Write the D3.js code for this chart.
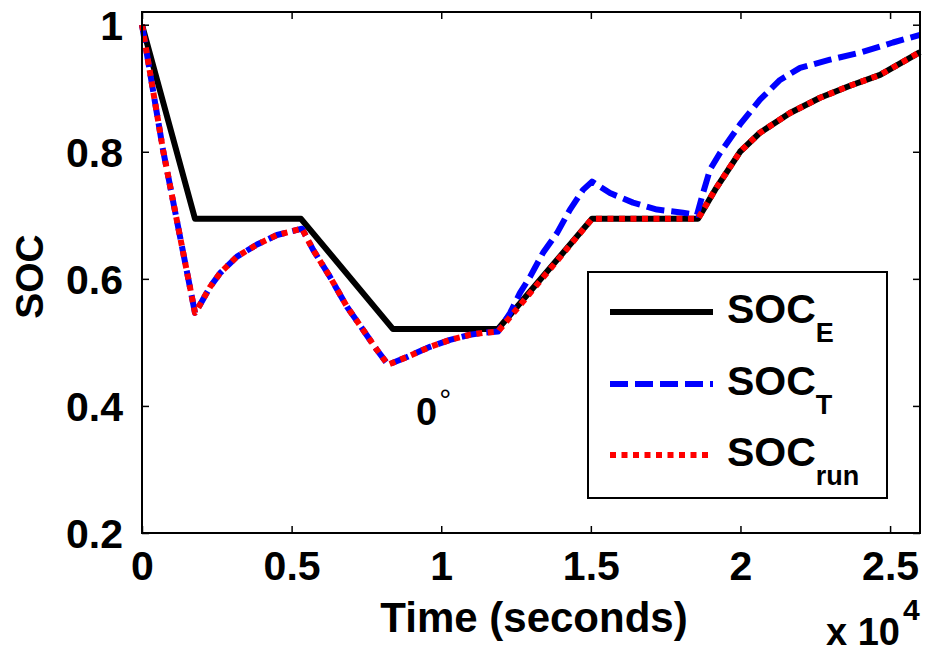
<!DOCTYPE html>
<html>
<head>
<meta charset="utf-8">
<script src="https://cdn.jsdelivr.net/npm/d3@7"></script>
<style>
  html, body { margin: 0; padding: 0; background: #fff; }
  svg text { font-family: "Liberation Sans", Arial, sans-serif; font-weight: bold; fill: #000; }
</style>
</head>
<body>
<svg id="chart" width="925" height="661"></svg>
<script>
// ---- data (time in seconds, SOC fraction) ----
const timeE = [0, 1771, 5314, 8388, 11897, 15039, 18581, 19150, 19985, 20650, 21655, 22660, 23660, 24665, 26000];
const socE  = [1.0, 0.6945, 0.6945, 0.521, 0.521, 0.6945, 0.6945, 0.740, 0.800, 0.830, 0.861, 0.885, 0.904, 0.921, 0.957];

const timeT = [0, 702, 1771, 1838, 2272, 2607, 3175, 3843, 4512, 5180, 5347, 5715, 6283, 6851, 7386, 7853, 8221,
               8856, 9625, 10293, 10961, 11396, 11897, 12298, 12632, 12967, 13401, 13869, 14303, 14738, 15039,
               15640, 16409, 17211, 18080, 18548, 18748, 18982, 19316, 19985, 20653, 21321, 21990, 22992, 23995, 25098, 26000];
const socT  = [1.0, 0.803, 0.5465, 0.551, 0.587, 0.609, 0.635, 0.654, 0.669, 0.677, 0.679, 0.646, 0.603, 0.556, 0.520, 0.488, 0.465,
               0.477, 0.493, 0.504, 0.512, 0.515, 0.517, 0.546, 0.578, 0.603, 0.641, 0.672, 0.709, 0.740, 0.753,
               0.735, 0.720, 0.709, 0.704, 0.701, 0.735, 0.772, 0.798, 0.843, 0.882, 0.913, 0.932, 0.945, 0.956, 0.972, 0.984];

const timeRun = [0, 702, 1771, 1838, 2272, 2607, 3175, 3843, 4512, 5180, 5347, 5715, 6283, 6851, 7386, 7853, 8221,
                 8856, 9625, 10293, 10961, 11396, 11897, 15039, 18581, 19150, 19985, 20650, 21655, 22660, 23660, 24665, 26000];
const socRun  = [1.0, 0.803, 0.5465, 0.551, 0.587, 0.609, 0.635, 0.654, 0.669, 0.677, 0.679, 0.646, 0.603, 0.556, 0.520, 0.488, 0.465,
                 0.477, 0.493, 0.504, 0.512, 0.515, 0.517, 0.6945, 0.6945, 0.740, 0.800, 0.830, 0.861, 0.885, 0.904, 0.921, 0.957];

const xTicks = [0, 5000, 10000, 15000, 20000, 25000];
const xTickLabels = ["0", "0.5", "1", "1.5", "2", "2.5"];
const yTicks = [0.2, 0.4, 0.6, 0.8, 1.0];
const yTickLabels = ["0.2", "0.4", "0.6", "0.8", "1"];

const legendNames = ["SOC", "SOC", "SOC"];
const legendSubs = ["E", "T", "run"];

// ---- layout ----
const svg = d3.select("#chart");
const L = 142, R = 920, T = 12, B = 533;
const x = d3.scaleLinear().domain([0, 26000]).range([L, R]);
const y = d3.scaleLinear().domain([0.2, 1.02]).range([B, T]);

const seriesStyle = [
  { t: timeE, v: socE, color: "#000000", dash: null },
  { t: timeT, v: socT, color: "#0000ff", dash: "18,7" },
  { t: timeRun, v: socRun, color: "#ff0000", dash: "6,5.5" }
];

const line = d3.line().x(d => x(d[0])).y(d => y(d[1]));
const plot = svg.append("g");
seriesStyle.forEach(s => {
  const pts = s.t.map((t, i) => [t, s.v[i]]);
  plot.append("path")
    .attr("d", line(pts))
    .attr("fill", "none")
    .attr("stroke", s.color)
    .attr("stroke-width", 6)
    .attr("stroke-linejoin", "round")
    .attr("stroke-dasharray", s.dash);
});

// axes (ticks inward on all sides)
const tl = 7;
const axB = d3.axisBottom(x).tickValues(xTicks).tickFormat((d, i) => xTickLabels[i]).tickSize(-tl).tickPadding(18);
const axT = d3.axisTop(x).tickValues(xTicks).tickFormat("").tickSize(-tl);
const axLft = d3.axisLeft(y).tickValues(yTicks).tickFormat((d, i) => yTickLabels[i]).tickSize(-tl).tickPadding(19);
const axRgt = d3.axisRight(y).tickValues(yTicks).tickFormat("").tickSize(-tl);

function styleAxis(g) {
  g.select(".domain").remove();
  g.selectAll(".tick line").attr("stroke", "#000").attr("stroke-width", 1.5);
  g.selectAll(".tick text").style("font-size", "41px").attr("fill", "#000");
}
svg.append("g").attr("transform", `translate(0,${B})`).call(axB).call(styleAxis)
  .selectAll(".tick text").attr("dy", "0.71em");
svg.append("g").attr("transform", `translate(0,${T})`).call(axT).call(styleAxis);
svg.append("g").attr("transform", `translate(${L},0)`).call(axLft).call(styleAxis)
  .selectAll(".tick text").attr("dy", "0.36em");
svg.append("g").attr("transform", `translate(${R},0)`).call(axRgt).call(styleAxis);

// frame
svg.append("rect").attr("x", L).attr("y", T).attr("width", R - L).attr("height", B - T)
  .attr("fill", "none").attr("stroke", "#000").attr("stroke-width", 2);

// axis labels
svg.append("text").attr("x", (L + R) / 2 + 3).attr("y", 632).attr("text-anchor", "middle")
  .style("font-size", "42px").text("Time (seconds)");
svg.append("text").attr("transform", `translate(43,${(T + B) / 2 + 4}) rotate(-90)`).attr("text-anchor", "middle")
  .style("font-size", "39px").text("SOC");

// exponent
const ex = svg.append("text").attr("x", 826).attr("y", 645).style("font-size", "38px");
ex.append("tspan").text("x 10");
ex.append("tspan").attr("dy", -25).attr("dx", 3).style("font-size", "30px").text("4");

// annotation 0°
const ann = svg.append("text").attr("x", 416).attr("y", 425).style("font-size", "38px");
ann.append("tspan").text("0");
ann.append("tspan").attr("dx", 2).attr("dy", -15).style("font-size", "30px").style("font-weight", "normal").text("°");

// legend
const lg = svg.append("g");
lg.append("rect").attr("x", 588).attr("y", 272).attr("width", 299).attr("height", 226)
  .attr("fill", "#fff").attr("stroke", "#000").attr("stroke-width", 2);
const legY = [312, 384, 455];
seriesStyle.forEach((s, i) => {
  lg.append("line").attr("x1", 610).attr("x2", 713).attr("y1", legY[i]).attr("y2", legY[i])
    .attr("stroke", s.color).attr("stroke-width", 6).attr("stroke-dasharray", s.dash);
  const t = lg.append("text").attr("x", 727).attr("y", legY[i] + 11).style("font-size", "41px");
  t.append("tspan").text(legendNames[i]);
  t.append("tspan").attr("dy", 19).style("font-size", "27px").text(legendSubs[i]);
});
</script>
</body>
</html>
